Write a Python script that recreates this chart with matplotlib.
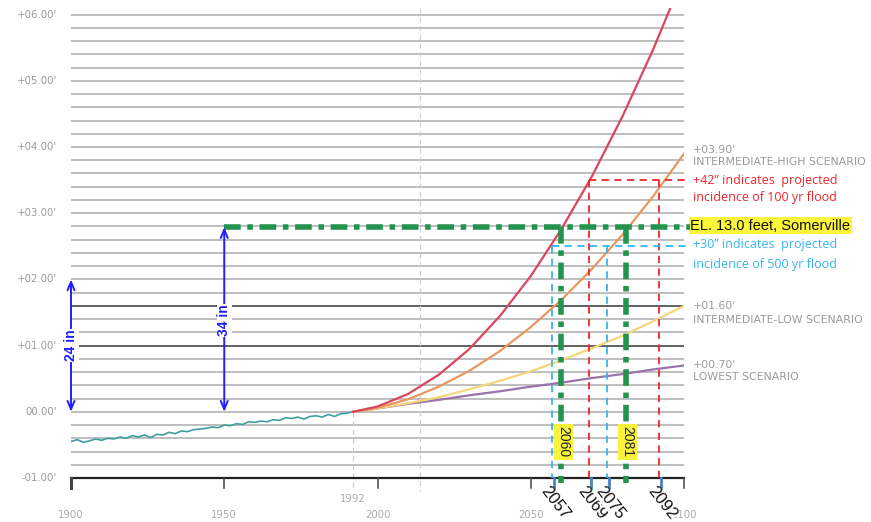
import matplotlib
matplotlib.use("Agg")
import matplotlib.pyplot as plt
import numpy as np

# ---------------- data ----------------
hist_years = [1900, 1902, 1904, 1906, 1908, 1910, 1912, 1914, 1916, 1918, 1920, 1922, 1924,
              1926, 1928, 1930, 1932, 1934, 1936, 1938, 1940, 1942, 1944, 1946, 1948, 1950,
              1952, 1954, 1956, 1958, 1960, 1962, 1964, 1966, 1968, 1970, 1972, 1974, 1976,
              1978, 1980, 1982, 1984, 1986, 1988, 1990, 1992]
hist_ft = [-0.45, -0.42, -0.46, -0.44, -0.41, -0.43, -0.40, -0.41, -0.38, -0.40, -0.36, -0.38,
           -0.35, -0.39, -0.34, -0.35, -0.31, -0.33, -0.29, -0.30, -0.27, -0.26, -0.25, -0.23,
           -0.24, -0.20, -0.21, -0.18, -0.19, -0.15, -0.16, -0.14, -0.15, -0.12, -0.13, -0.09,
           -0.10, -0.08, -0.11, -0.07, -0.06, -0.08, -0.04, -0.07, -0.03, -0.02, 0.00]

proj_years = [1992, 2000, 2010, 2020, 2030, 2040, 2050, 2060, 2070, 2080, 2090, 2100]
highest_ft = [0.00, 0.08, 0.27, 0.56, 0.95, 1.45, 2.05, 2.76, 3.56, 4.47, 5.48, 6.60]
int_high_ft = [0.00, 0.06, 0.19, 0.38, 0.62, 0.92, 1.28, 1.69, 2.16, 2.68, 3.26, 3.90]
int_low_ft = [0.00, 0.05, 0.13, 0.22, 0.34, 0.47, 0.61, 0.78, 0.96, 1.15, 1.37, 1.60]
lowest_ft = [0.00, 0.05, 0.12, 0.18, 0.25, 0.31, 0.38, 0.44, 0.51, 0.57, 0.64, 0.70]

ytick_vals = [6, 5, 4, 3, 2, 1, 0, -1]
ytick_labels = ["+06.00'", "+05.00'", "+04.00'", "+03.00'", "+02.00'", "+01.00'", "00.00'", "-01.00'"]
xtick_vals = [1900, 1950, 2000, 2050, 2100]

el_level_ft = 2.79          # EL. 13.0 feet (34 in)
flood100_ft = 3.5           # +42"
flood500_ft = 2.5           # +30"
green_years = [2060, 2081]
red_years = [2069, 2092]
blue_years = [2057, 2075]
marked_years = [2057, 2069, 2075, 2092]

# ---------------- figure ----------------
fig = plt.figure(figsize=(8.71, 5.22), dpi=100)
ax = fig.add_axes([71 / 871, 1 - 478 / 522, (684 - 71) / 871, (478 - 8) / 522])
ax.set_xlim(1900, 2100)
ax.set_ylim(-1.0, 6.1)
ax.axis("off")

GRAY_TXT = "#9a9a9a"

# horizontal gridlines every 0.2 ft
for v in np.round(np.arange(-0.8, 6.01, 0.2), 2):
    dark = abs(v - 1.0) < 1e-6 or abs(v - 1.6) < 1e-6
    ax.plot([1900, 2100], [v, v], color="#555555" if dark else "#b9b9b9",
            lw=1.3, zorder=1, solid_capstyle="butt")
# baseline axis
ax.plot([1900, 2100], [-1.0, -1.0], color="#222222", lw=1.6, zorder=3, clip_on=False)
for xv in xtick_vals:
    ax.plot([xv, xv], [-1.0, -1.15], color="#444444", lw=2.2 if xv == 1900 else 1.1,
            zorder=3, clip_on=False)

# gray dashed verticals
ax.plot([1992, 1992], [0, -1.2], color="#c8c8c8", lw=0.9, ls=(0, (4, 3)), zorder=1, clip_on=False)
ax.plot([2014, 2014], [6.1, -1.2], color="#cfcfcf", lw=0.9, ls=(0, (4, 3)), zorder=1, clip_on=False)

# y labels
for v, lab in zip(ytick_vals, ytick_labels):
    ax.text(1895.5, v, lab, ha="right", va="center", fontsize=7.3, color=GRAY_TXT,
            family="DejaVu Sans")
# x labels
for xv in xtick_vals:
    ax.text(xv, -1.56, str(xv), ha="center", va="center", fontsize=7.3, color="#aaaaaa",
            family="DejaVu Sans", clip_on=False)
ax.text(1992, -1.32, "1992", ha="center", va="center", fontsize=7.3, color="#aaaaaa",
        family="DejaVu Sans")

# curves
ax.plot(hist_years, hist_ft, color="#3e9fa3", lw=1.2, zorder=4)
ax.plot(proj_years, lowest_ft, color="#9a73ac", lw=1.6, zorder=4)
ax.plot(proj_years, int_low_ft, color="#f4d67c", lw=1.6, zorder=4)
ax.plot(proj_years, int_high_ft, color="#e9975f", lw=1.6, zorder=4)
ax.plot(proj_years, highest_ft, color="#d9465e", lw=1.6, zorder=4)

# red dashed (100 yr flood)
RED = "#f0242c"
ax.plot([red_years[0], 2102], [flood100_ft, flood100_ft], color=RED, lw=1.3,
        ls=(0, (4, 3)), zorder=5, clip_on=False)
for yr in red_years:
    ax.plot([yr, yr], [flood100_ft, -1.0], color=RED, lw=1.3, ls=(0, (4, 3)), zorder=5)
# blue dashed (500 yr flood)
SKY = "#35b6ee"
ax.plot([blue_years[0], 2102], [flood500_ft, flood500_ft], color=SKY, lw=1.3,
        ls=(0, (4, 3)), zorder=5, clip_on=False)
for yr in blue_years:
    ax.plot([yr, yr], [flood500_ft, -1.0], color=SKY, lw=1.3, ls=(0, (4, 3)), zorder=5)
# green dash-dot
GREEN = "#23934f"
ax.plot([1950, 2102], [el_level_ft, el_level_ft], color=GREEN, lw=4,
        ls=(0, (3, 1.2, 1, 1.2)), zorder=6, clip_on=False)
for yr in green_years:
    ax.plot([yr, yr], [el_level_ft, -1.08], color=GREEN, lw=4,
            ls=(0, (3, 1.2, 1, 1.2)), zorder=6, clip_on=False)
    ax.text(yr + 0.6, -0.45, str(yr), rotation=-90, ha="center", va="center",
            fontsize=10, color="#222222", family="Liberation Sans", zorder=7,
            bbox=dict(boxstyle="square,pad=0.18", fc="#f8f33a", ec="none"))

# blue measurement arrows
BLUE = "#1f1fff"
for x0, top, lab, ymid in [(1900, 2.0, "24 in", 1.0), (1950, el_level_ft, "34 in", 1.38)]:
    ax.annotate("", xy=(x0, top), xytext=(x0, 0), zorder=7,
                arrowprops=dict(arrowstyle="<->,head_length=0.6,head_width=0.25",
                                color=BLUE, lw=1.4, shrinkA=0, shrinkB=0))
    ax.text(x0, ymid, lab, rotation=90, ha="center", va="center", fontsize=10,
            color=BLUE, family="Liberation Sans", fontweight="bold", zorder=8,
            bbox=dict(boxstyle="square,pad=0.05", fc="white", ec="none"))

# marked year labels at bottom
for yr in marked_years:
    ax.plot([yr + 0.5, yr + 0.5], [-1.0, -1.2], color="#4a7fc0", lw=2, zorder=7, clip_on=False)
for yr in marked_years:
    ax.text(yr - 0.8, -1.08, str(yr), rotation=-52, ha="left", va="top", fontsize=12,
            color="#111111", family="Liberation Sans", rotation_mode="anchor", zorder=8,
            bbox=dict(boxstyle="square,pad=0.02", fc="white", ec="none"))

# right-side annotations
xr = 2102.8
ax.text(xr, 3.96, "+03.90'", fontsize=7.8, color=GRAY_TXT, va="center", family="DejaVu Sans")
ax.text(xr, 3.78, "INTERMEDIATE-HIGH SCENARIO", fontsize=7.8, color=GRAY_TXT, va="center",
        family="DejaVu Sans")
ax.text(xr, 3.50, "+42\u201d indicates  projected", fontsize=9, color=RED, va="center",
        family="Open Sans")
ax.text(xr, 3.24, "incidence of 100 yr flood", fontsize=9, color=RED, va="center",
        family="Open Sans")
ax.text(2102.0, el_level_ft + 0.02, "EL. 13.0 feet, Somerville", fontsize=10.5, color="#111111",
        va="center", family="Liberation Sans",
        bbox=dict(boxstyle="square,pad=0.1", fc="#fbf53c", ec="none"))
ax.text(xr, 2.52, "+30\u201d indicates  projected", fontsize=9, color=SKY, va="center",
        family="Open Sans")
ax.text(xr, 2.22, "incidence of 500 yr flood", fontsize=9, color=SKY, va="center",
        family="Open Sans")
ax.text(xr, 1.60, "+01.60'", fontsize=7.8, color=GRAY_TXT, va="center", family="DejaVu Sans")
ax.text(xr, 1.39, "INTERMEDIATE-LOW SCENARIO", fontsize=7.8, color=GRAY_TXT, va="center",
        family="DejaVu Sans")
ax.text(xr, 0.71, "+00.70'", fontsize=7.8, color=GRAY_TXT, va="center", family="DejaVu Sans")
ax.text(xr, 0.52, "LOWEST SCENARIO", fontsize=7.8, color=GRAY_TXT, va="center",
        family="DejaVu Sans")

fig.savefig("out.png", dpi=100)
